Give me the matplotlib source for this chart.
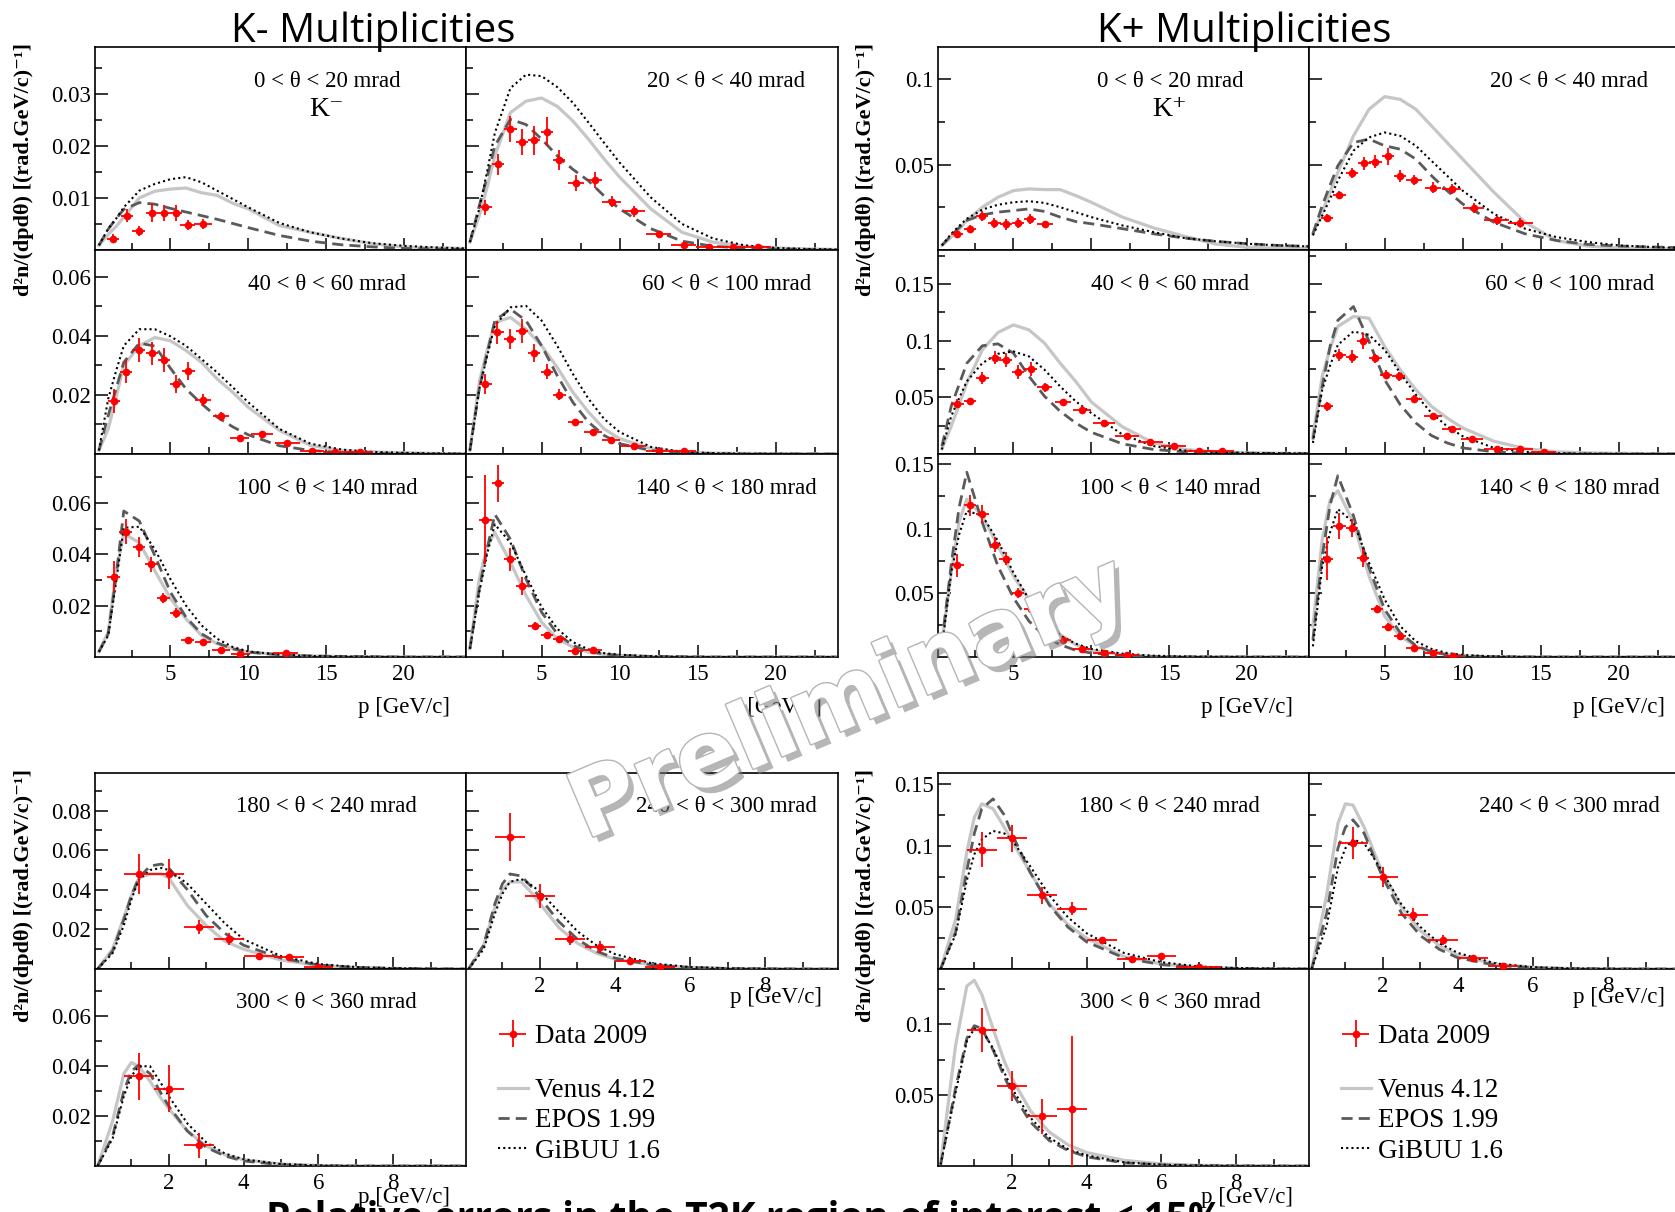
import matplotlib
matplotlib.use("Agg")
import matplotlib.pyplot as plt
from matplotlib import patheffects

W, H = 1675, 1212
SERIF = ["Liberation Serif", "DejaVu Serif"]
plt.rcParams["font.family"] = SERIF
plt.rcParams["axes.linewidth"] = 1.2

# momentum grids of the model curves
P_TOP = [0.4, 1, 1.5, 2, 3, 4, 5, 6, 7, 8, 9, 10, 12, 14, 16, 18, 20, 22, 24]
P_LOW = [0.1, 0.5, 0.8, 1.0, 1.2, 1.5, 1.8, 2.0, 2.5, 3.0, 3.5, 4.0, 5.0, 6.0, 7.0, 8.0, 9.0, 9.9]

THETA_TOP = ["0 < θ < 20 mrad", "20 < θ < 40 mrad", "40 < θ < 60 mrad",
             "60 < θ < 100 mrad", "100 < θ < 140 mrad", "140 < θ < 180 mrad"]
THETA_LOW = ["180 < θ < 240 mrad", "240 < θ < 300 mrad", "300 < θ < 360 mrad"]

# ---- K- : model predictions, forward angles ----
KM_VENUS_TOP = [
    [0.0009, 0.003, 0.0045, 0.0063, 0.010, 0.0113, 0.0117, 0.0119, 0.011, 0.0105, 0.009, 0.0079, 0.0047, 0.0034, 0.0022, 0.0012, 0.0006, 0.0004, 0.0003],
    [0.0015, 0.0066, 0.012, 0.0181, 0.0264, 0.0286, 0.0292, 0.0276, 0.0248, 0.0213, 0.0175, 0.014, 0.0079, 0.0034, 0.0015, 0.0007, 0.0004, 0.0002, 0.0001],
    [0.0012, 0.0085, 0.019, 0.030, 0.0366, 0.0394, 0.0383, 0.035, 0.031, 0.0254, 0.0209, 0.0158, 0.008, 0.0029, 0.0012, 0.0007, 0.0004, 0.0002, 0.0001],
    [0.0012, 0.0243, 0.035, 0.0445, 0.0462, 0.0422, 0.0366, 0.0293, 0.0209, 0.0142, 0.0085, 0.0052, 0.0018, 0.0007, 0.0003, 0.0002, 0.0001, 0.0001, 0.0],
    [0.002, 0.0097, 0.033, 0.048, 0.0445, 0.0335, 0.0228, 0.0148, 0.0084, 0.0052, 0.0032, 0.0019, 0.0009, 0.0004, 0.0002, 0.0001, 0.0, 0.0, 0.0],
    [0.0032, 0.0303, 0.043, 0.0484, 0.0368, 0.0239, 0.0135, 0.0071, 0.0039, 0.0019, 0.001, 0.0006, 0.0002, 0.0001, 0.0, 0.0, 0.0, 0.0, 0.0],
]
KM_EPOS_TOP = [
    [0.0009, 0.004, 0.006, 0.0078, 0.0091, 0.0088, 0.0080, 0.0073, 0.0066, 0.0059, 0.0051, 0.0043, 0.0028, 0.0017, 0.001, 0.0006, 0.0003, 0.0002, 0.0001],
    [0.0015, 0.0085, 0.014, 0.020, 0.0251, 0.0241, 0.0213, 0.0181, 0.0155, 0.0133, 0.0104, 0.0079, 0.0041, 0.0017, 0.0007, 0.0004, 0.0002, 0.0001, 0.0],
    [0.0012, 0.013, 0.022, 0.031, 0.0375, 0.0365, 0.029, 0.022, 0.017, 0.0125, 0.0092, 0.0065, 0.0028, 0.0012, 0.0005, 0.0002, 0.0001, 0.0, 0.0],
    [0.0012, 0.022, 0.034, 0.0451, 0.049, 0.0451, 0.0366, 0.0265, 0.0175, 0.0108, 0.0063, 0.0035, 0.0012, 0.0004, 0.0001, 0.0, 0.0, 0.0, 0.0],
    [0.002, 0.009, 0.031, 0.0568, 0.0529, 0.0394, 0.0252, 0.0155, 0.009, 0.0055, 0.0032, 0.0019, 0.0009, 0.0004, 0.0002, 0.0001, 0.0, 0.0, 0.0],
    [0.0032, 0.0265, 0.042, 0.0555, 0.0458, 0.0303, 0.0174, 0.009, 0.0045, 0.0022, 0.0012, 0.0006, 0.0002, 0.0001, 0.0, 0.0, 0.0, 0.0, 0.0],
]
KM_GIBUU_TOP = [
    [0.0009, 0.0041, 0.006, 0.0082, 0.0114, 0.0127, 0.0136, 0.014, 0.013, 0.0114, 0.0098, 0.0082, 0.0052, 0.0034, 0.0022, 0.0013, 0.0008, 0.0005, 0.0003],
    [0.0015, 0.0079, 0.015, 0.0225, 0.0311, 0.0337, 0.0334, 0.0313, 0.0283, 0.0245, 0.0206, 0.0168, 0.0101, 0.005, 0.0022, 0.0009, 0.0004, 0.0002, 0.0001],
    [0.0012, 0.0187, 0.028, 0.0366, 0.0422, 0.0422, 0.0398, 0.0366, 0.0321, 0.0276, 0.0226, 0.0175, 0.0085, 0.0035, 0.0015, 0.0007, 0.0004, 0.0002, 0.0001],
    [0.0012, 0.022, 0.033, 0.0434, 0.0496, 0.0501, 0.0451, 0.0366, 0.0271, 0.0187, 0.0119, 0.0074, 0.0024, 0.0007, 0.0003, 0.0001, 0.0001, 0.0, 0.0],
    [0.002, 0.0084, 0.029, 0.0503, 0.0507, 0.0419, 0.0303, 0.02, 0.0123, 0.0071, 0.0039, 0.0022, 0.0009, 0.0004, 0.0002, 0.0001, 0.0, 0.0, 0.0],
    [0.0032, 0.0252, 0.040, 0.0516, 0.0445, 0.0316, 0.0194, 0.011, 0.0058, 0.003, 0.0015, 0.0009, 0.0003, 0.0001, 0.0, 0.0, 0.0, 0.0, 0.0],
]
# measured points: (p, p half-width, value, error)
KM_DATA_TOP = [
    [(1.3, 0.4, 0.0022, 0.0008), (2.2, 0.4, 0.0066, 0.0012), (2.95, 0.4, 0.0036, 0.001), (3.8, 0.4, 0.0072, 0.0018),
     (4.6, 0.4, 0.0071, 0.0016), (5.35, 0.4, 0.0071, 0.0016), (6.1, 0.5, 0.0048, 0.001), (7.1, 0.6, 0.005, 0.001)],
    [(1.4, 0.4, 0.0082, 0.0015), (2.2, 0.4, 0.0165, 0.002), (3.0, 0.4, 0.0232, 0.0025), (3.75, 0.4, 0.0208, 0.0025),
     (4.5, 0.4, 0.0211, 0.0028), (5.35, 0.4, 0.0227, 0.0028), (6.1, 0.4, 0.0173, 0.002), (7.2, 0.5, 0.0129, 0.0015),
     (8.4, 0.5, 0.0135, 0.0015), (9.5, 0.6, 0.0093, 0.001), (10.9, 0.7, 0.0074, 0.001), (12.5, 0.8, 0.0031, 0.0005),
     (14.1, 0.8, 0.001, 0.0003), (15.7, 0.8, 0.0006, 0.0002), (17.3, 0.8, 0.0006, 0.0002), (18.9, 0.8, 0.0005, 0.0002)],
    [(1.37, 0.4, 0.0179, 0.004), (2.16, 0.4, 0.0279, 0.004), (2.95, 0.4, 0.0352, 0.004), (3.8, 0.4, 0.034, 0.004),
     (4.6, 0.4, 0.0318, 0.004), (5.34, 0.4, 0.0237, 0.003), (6.16, 0.4, 0.028, 0.003), (7.1, 0.5, 0.0184, 0.002),
     (8.25, 0.5, 0.0128, 0.0015), (9.45, 0.6, 0.0054, 0.0007), (10.9, 0.7, 0.0066, 0.0007), (12.5, 0.8, 0.0038, 0.0005),
     (14.1, 0.8, 0.001, 0.0003), (15.6, 0.8, 0.0008, 0.0002), (17.2, 0.8, 0.0008, 0.0002)],
    [(1.4, 0.4, 0.0237, 0.0035), (2.16, 0.4, 0.0411, 0.004), (2.98, 0.4, 0.0389, 0.0035), (3.73, 0.4, 0.0417, 0.004),
     (4.52, 0.4, 0.0342, 0.003), (5.34, 0.4, 0.0279, 0.0025), (6.13, 0.4, 0.0201, 0.002), (7.16, 0.5, 0.0108, 0.001),
     (8.3, 0.6, 0.0076, 0.0008), (9.45, 0.6, 0.0047, 0.0006), (10.9, 0.8, 0.0026, 0.0004), (12.5, 0.8, 0.0011, 0.0003),
     (14.1, 0.8, 0.001, 0.0003)],
    [(1.34, 0.4, 0.0312, 0.006), (2.12, 0.4, 0.0488, 0.005), (2.98, 0.4, 0.0428, 0.004), (3.77, 0.4, 0.0361, 0.003),
     (4.55, 0.4, 0.023, 0.002), (5.34, 0.4, 0.017, 0.002), (6.1, 0.4, 0.0067, 0.0008), (7.1, 0.5, 0.006, 0.0008),
     (8.25, 0.6, 0.0027, 0.0005), (9.5, 0.6, 0.0013, 0.0003), (12.4, 0.8, 0.0014, 0.0003)],
    [(1.4, 0.4, 0.0535, 0.0175), (2.19, 0.4, 0.0677, 0.0072), (2.98, 0.4, 0.0381, 0.0045), (3.77, 0.4, 0.0277, 0.0035),
     (4.55, 0.4, 0.012, 0.0015), (5.34, 0.4, 0.0086, 0.0012), (6.13, 0.4, 0.0071, 0.0012), (7.16, 0.5, 0.0025, 0.0005),
     (8.3, 0.6, 0.0028, 0.0006)],
]

# ---- K+ : model predictions, forward angles ----
KP_VENUS_TOP = [
    [0.0027, 0.0076, 0.012, 0.0173, 0.0251, 0.0309, 0.0348, 0.0358, 0.0354, 0.0354, 0.0319, 0.028, 0.0193, 0.013, 0.008, 0.0035, 0.0016, 0.0012, 0.001],
    [0.0095, 0.0222, 0.034, 0.0455, 0.0669, 0.0825, 0.0899, 0.0883, 0.0825, 0.0728, 0.063, 0.0533, 0.0339, 0.0163, 0.0056, 0.0023, 0.0012, 0.0008, 0.0006],
    [0.0046, 0.0245, 0.043, 0.0626, 0.0919, 0.1072, 0.1139, 0.1095, 0.0978, 0.0802, 0.0641, 0.046, 0.024, 0.0098, 0.004, 0.0019, 0.001, 0.0007, 0.0005],
    [0.0157, 0.0685, 0.093, 0.1125, 0.1213, 0.1198, 0.0949, 0.0743, 0.0567, 0.0421, 0.0318, 0.023, 0.0113, 0.0048, 0.0019, 0.001, 0.0006, 0.0004, 0.0003],
    [0.011, 0.0656, 0.105, 0.1229, 0.1099, 0.0865, 0.063, 0.0448, 0.0292, 0.0174, 0.0096, 0.0052, 0.0018, 0.0005, 0.0002, 0.0001, 0.0, 0.0, 0.0],
    [0.024, 0.0917, 0.122, 0.1294, 0.1047, 0.063, 0.0318, 0.0161, 0.0083, 0.0039, 0.0018, 0.0008, 0.0002, 0.0001, 0.0, 0.0, 0.0, 0.0, 0.0],
]
KP_EPOS_TOP = [
    [0.0027, 0.0086, 0.013, 0.0173, 0.0206, 0.0222, 0.0231, 0.0241, 0.0226, 0.0193, 0.0167, 0.0154, 0.0125, 0.0095, 0.007, 0.0051, 0.0037, 0.0027, 0.0021],
    [0.0095, 0.0261, 0.038, 0.0494, 0.063, 0.065, 0.0611, 0.0591, 0.0533, 0.0436, 0.0348, 0.027, 0.0163, 0.0095, 0.0056, 0.0033, 0.0023, 0.0018, 0.0014],
    [0.0069, 0.0421, 0.061, 0.0800, 0.0955, 0.0972, 0.089, 0.0685, 0.0509, 0.0377, 0.0274, 0.0192, 0.009, 0.004, 0.0019, 0.001, 0.0007, 0.0005, 0.0003],
    [0.0128, 0.060, 0.095, 0.118, 0.1301, 0.0993, 0.0655, 0.0435, 0.0274, 0.0163, 0.0098, 0.0054, 0.0019, 0.0007, 0.0003, 0.0001, 0.0, 0.0, 0.0],
    [0.011, 0.072, 0.116, 0.1438, 0.1047, 0.0708, 0.0461, 0.0279, 0.0161, 0.0096, 0.0052, 0.0031, 0.001, 0.0003, 0.0001, 0.0, 0.0, 0.0, 0.0],
    [0.0135, 0.0786, 0.118, 0.1411, 0.1099, 0.0695, 0.037, 0.0188, 0.0089, 0.0042, 0.0018, 0.0008, 0.0002, 0.0001, 0.0, 0.0, 0.0, 0.0, 0.0],
]
KP_GIBUU_TOP = [
    [0.0027, 0.0095, 0.014, 0.0183, 0.0237, 0.0265, 0.028, 0.0286, 0.0276, 0.0251, 0.0222, 0.0193, 0.0144, 0.0105, 0.007, 0.0051, 0.0037, 0.0027, 0.0021],
    [0.0086, 0.0202, 0.030, 0.0407, 0.0582, 0.066, 0.0689, 0.0669, 0.0611, 0.0523, 0.0436, 0.0348, 0.0212, 0.0125, 0.0076, 0.0047, 0.0027, 0.0018, 0.0012],
    [0.004, 0.0333, 0.049, 0.0641, 0.0802, 0.0884, 0.0905, 0.0861, 0.0743, 0.0597, 0.0465, 0.0362, 0.0172, 0.007, 0.0031, 0.0016, 0.001, 0.0007, 0.0005],
    [0.0098, 0.0567, 0.078, 0.0963, 0.1081, 0.1051, 0.0919, 0.0714, 0.0523, 0.0362, 0.0245, 0.0157, 0.0054, 0.0019, 0.0007, 0.0003, 0.0002, 0.0001, 0.0],
    [0.007, 0.0656, 0.095, 0.1138, 0.1099, 0.0904, 0.0656, 0.0448, 0.0279, 0.0167, 0.0104, 0.0063, 0.0026, 0.001, 0.0004, 0.0002, 0.0001, 0.0, 0.0],
    [0.0083, 0.0708, 0.097, 0.1151, 0.1047, 0.0734, 0.0448, 0.024, 0.0122, 0.0063, 0.0031, 0.0016, 0.0005, 0.0001, 0.0, 0.0, 0.0, 0.0, 0.0],
]
KP_DATA_TOP = [
    [(1.37, 0.4, 0.0091, 0.002), (2.2, 0.4, 0.0124, 0.002), (2.97, 0.4, 0.0198, 0.003), (3.77, 0.4, 0.0158, 0.003),
     (4.53, 0.4, 0.015, 0.003), (5.3, 0.4, 0.016, 0.003), (6.07, 0.4, 0.018, 0.003), (7.03, 0.5, 0.015, 0.002)],
    [(1.3, 0.4, 0.0189, 0.002), (2.1, 0.4, 0.0325, 0.002), (2.9, 0.4, 0.0451, 0.003), (3.7, 0.4, 0.0508, 0.004),
     (4.4, 0.4, 0.0518, 0.004), (5.2, 0.4, 0.0549, 0.005), (6.0, 0.4, 0.0436, 0.0035), (6.9, 0.5, 0.041, 0.003),
     (8.1, 0.5, 0.0366, 0.003), (9.3, 0.6, 0.0358, 0.003), (10.7, 0.7, 0.0245, 0.003), (12.2, 0.8, 0.0173, 0.0025),
     (13.7, 0.8, 0.016, 0.0025)],
    [(1.4, 0.4, 0.0444, 0.004), (2.2, 0.4, 0.0465, 0.003), (3.0, 0.4, 0.067, 0.005), (3.8, 0.4, 0.085, 0.006),
     (4.5, 0.4, 0.083, 0.006), (5.3, 0.4, 0.0723, 0.006), (6.1, 0.4, 0.075, 0.006), (7.0, 0.5, 0.0588, 0.004),
     (8.2, 0.5, 0.0456, 0.003), (9.4, 0.6, 0.0392, 0.003), (10.8, 0.7, 0.0274, 0.002), (12.3, 0.8, 0.0157, 0.0015),
     (13.8, 0.8, 0.0107, 0.0012), (15.3, 0.8, 0.0069, 0.001), (16.9, 0.8, 0.0025, 0.0005), (18.4, 0.8, 0.0025, 0.0005)],
    [(1.3, 0.4, 0.0421, 0.004), (2.1, 0.4, 0.0875, 0.005), (2.9, 0.4, 0.086, 0.006), (3.6, 0.4, 0.100, 0.007),
     (4.4, 0.4, 0.0846, 0.004), (5.1, 0.4, 0.070, 0.004), (5.9, 0.4, 0.0685, 0.004), (6.9, 0.5, 0.0488, 0.003),
     (8.1, 0.6, 0.0333, 0.003), (9.3, 0.6, 0.0224, 0.002), (10.6, 0.7, 0.0136, 0.0015), (12.2, 0.8, 0.0048, 0.001),
     (13.7, 0.8, 0.004, 0.001), (15.2, 0.8, 0.0015, 0.0005)],
    [(1.4, 0.4, 0.0714, 0.009), (2.2, 0.4, 0.118, 0.008), (3.0, 0.4, 0.111, 0.007), (3.8, 0.4, 0.0875, 0.006),
     (4.5, 0.4, 0.0766, 0.005), (5.3, 0.4, 0.050, 0.004), (6.1, 0.4, 0.037, 0.003), (7.0, 0.5, 0.0219, 0.002),
     (8.2, 0.5, 0.013, 0.0015), (9.4, 0.6, 0.0063, 0.001), (10.8, 0.7, 0.0031, 0.0006), (12.3, 0.8, 0.0013, 0.0004)],
    [(1.3, 0.4, 0.0766, 0.017), (2.1, 0.4, 0.102, 0.01), (2.9, 0.4, 0.1005, 0.007), (3.6, 0.4, 0.0773, 0.007),
     (4.5, 0.4, 0.0375, 0.003), (5.2, 0.4, 0.0234, 0.003), (6.0, 0.4, 0.0167, 0.002), (6.9, 0.5, 0.007, 0.001),
     (8.1, 0.6, 0.0031, 0.0006), (9.4, 0.6, 0.001, 0.0003)],
]

# ---- large angles (p up to 10 GeV/c) ----
KM_VENUS_LOW = [
    [0.0, 0.010, 0.026, 0.037, 0.046, 0.048, 0.048, 0.046, 0.032, 0.022, 0.014, 0.010, 0.0045, 0.0018, 0.0007, 0.0003, 0.0001, 0.0],
    [0.0, 0.012, 0.031, 0.040, 0.044, 0.044, 0.038, 0.033, 0.021, 0.013, 0.008, 0.005, 0.002, 0.0008, 0.0003, 0.0001, 0.0, 0.0],
    [0.0, 0.018, 0.037, 0.0415, 0.040, 0.034, 0.027, 0.023, 0.014, 0.008, 0.0045, 0.0025, 0.0008, 0.0002, 0.0, 0.0, 0.0, 0.0],
]
KM_EPOS_LOW = [
    [0.0, 0.009, 0.025, 0.037, 0.046, 0.052, 0.053, 0.051, 0.040, 0.027, 0.018, 0.012, 0.0055, 0.002, 0.0008, 0.0003, 0.0001, 0.0],
    [0.0, 0.012, 0.033, 0.043, 0.048, 0.047, 0.041, 0.036, 0.024, 0.015, 0.009, 0.0055, 0.002, 0.0007, 0.0002, 0.0001, 0.0, 0.0],
    [0.0, 0.012, 0.030, 0.038, 0.0405, 0.037, 0.029, 0.024, 0.014, 0.0075, 0.004, 0.002, 0.0005, 0.0001, 0.0, 0.0, 0.0, 0.0],
]
KM_GIBUU_LOW = [
    [0.0, 0.008, 0.022, 0.035, 0.045, 0.050, 0.051, 0.050, 0.043, 0.033, 0.023, 0.015, 0.0065, 0.0025, 0.001, 0.0004, 0.0001, 0.0],
    [0.0, 0.010, 0.028, 0.038, 0.044, 0.0455, 0.042, 0.039, 0.029, 0.019, 0.012, 0.0075, 0.0028, 0.001, 0.0004, 0.0001, 0.0, 0.0],
    [0.0, 0.011, 0.028, 0.036, 0.040, 0.040, 0.033, 0.028, 0.017, 0.0095, 0.005, 0.0027, 0.0008, 0.0002, 0.0, 0.0, 0.0, 0.0],
]
KM_DATA_LOW = [
    [(1.2, 0.4, 0.048, 0.010), (2.0, 0.4, 0.048, 0.0075), (2.8, 0.4, 0.0213, 0.0035), (3.6, 0.4, 0.0153, 0.003),
     (4.4, 0.4, 0.0066, 0.0015), (5.2, 0.4, 0.0063, 0.0015), (6.0, 0.4, 0.0008, 0.0004)],
    [(1.2, 0.4, 0.0666, 0.0123), (2.0, 0.4, 0.0368, 0.006), (2.8, 0.4, 0.015, 0.003), (3.6, 0.4, 0.011, 0.003),
     (4.4, 0.4, 0.0038, 0.001), (5.2, 0.4, 0.0008, 0.0004)],
    [(1.2, 0.4, 0.036, 0.0095), (2.0, 0.4, 0.031, 0.0095), (2.8, 0.4, 0.0083, 0.005)],
]
KP_VENUS_LOW = [
    [0.0, 0.040, 0.095, 0.123, 0.134, 0.130, 0.115, 0.104, 0.078, 0.053, 0.036, 0.025, 0.010, 0.004, 0.0015, 0.0005, 0.0001, 0.0],
    [0.0, 0.060, 0.118, 0.134, 0.133, 0.115, 0.092, 0.078, 0.050, 0.031, 0.019, 0.011, 0.004, 0.0013, 0.0004, 0.0001, 0.0, 0.0],
    [0.002, 0.085, 0.127, 0.131, 0.121, 0.097, 0.074, 0.062, 0.039, 0.024, 0.015, 0.0095, 0.004, 0.0015, 0.0005, 0.0002, 0.0, 0.0],
]
KP_EPOS_LOW = [
    [0.0, 0.030, 0.080, 0.110, 0.130, 0.138, 0.125, 0.110, 0.078, 0.052, 0.034, 0.022, 0.009, 0.0035, 0.0012, 0.0004, 0.0001, 0.0],
    [0.0, 0.045, 0.098, 0.115, 0.121, 0.110, 0.088, 0.074, 0.045, 0.027, 0.016, 0.009, 0.003, 0.001, 0.0003, 0.0001, 0.0, 0.0],
    [0.001, 0.055, 0.090, 0.099, 0.097, 0.082, 0.063, 0.052, 0.031, 0.018, 0.011, 0.0065, 0.0022, 0.0008, 0.0003, 0.0001, 0.0, 0.0],
]
KP_GIBUU_LOW = [
    [0.0, 0.028, 0.072, 0.093, 0.105, 0.112, 0.110, 0.105, 0.083, 0.060, 0.042, 0.029, 0.013, 0.0055, 0.002, 0.0008, 0.0003, 0.0001],
    [0.0, 0.035, 0.082, 0.098, 0.105, 0.102, 0.088, 0.078, 0.052, 0.034, 0.021, 0.013, 0.0045, 0.0015, 0.0005, 0.0002, 0.0, 0.0],
    [0.001, 0.052, 0.088, 0.097, 0.096, 0.083, 0.066, 0.055, 0.034, 0.020, 0.012, 0.0075, 0.0026, 0.0009, 0.0003, 0.0001, 0.0, 0.0],
]
KP_DATA_LOW = [
    [(1.2, 0.4, 0.0968, 0.014), (2.0, 0.4, 0.106, 0.011), (2.8, 0.4, 0.0597, 0.007), (3.6, 0.4, 0.049, 0.005),
     (4.4, 0.4, 0.0232, 0.003), (5.2, 0.4, 0.0084, 0.002), (6.0, 0.4, 0.0103, 0.002), (7.0, 0.6, 0.0014, 0.0006)],
    [(1.2, 0.4, 0.102, 0.013), (2.0, 0.4, 0.0746, 0.008), (2.8, 0.4, 0.0441, 0.005), (3.6, 0.4, 0.0238, 0.004),
     (4.4, 0.4, 0.0089, 0.002), (5.2, 0.4, 0.0022, 0.001)],
    [(1.2, 0.4, 0.0958, 0.0155), (2.0, 0.4, 0.0566, 0.0105), (2.8, 0.4, 0.035, 0.0125), (3.6, 0.4, 0.040, 0.052)],
]

# y-axis ranges and tick steps per row
KM_YMAX_TOP, KM_YSTEP_TOP = [0.039, 0.069, 0.079], [0.01, 0.02, 0.02]
KM_YMAX_LOW, KM_YSTEP_LOW = [0.099, 0.079], [0.02, 0.02]
KP_YMAX_TOP, KP_YSTEP_TOP = [0.119, 0.18, 0.158], [0.05, 0.05, 0.05]
KP_YMAX_LOW, KP_YSTEP_LOW = [0.159, 0.139], [0.05, 0.05]

# panel frames in pixels
TOP_ROWS = [(47, 250), (250, 454), (454, 657)]
LOW_ROWS = [(773, 969), (969, 1166)]
KM_COLS = [(95, 466), (466, 838)]
KP_COLS = [(938, 1309), (1309, 1681)]

YLABEL = "d²n/(dpdθ) [(rad.GeV/c)⁻¹]"


def add_panel(fig, col, row):
    (x0, x1), (y0, y1) = col, row
    return fig.add_axes([x0 / W, 1 - y1 / H, (x1 - x0) / W, (y1 - y0) / H])


def draw_panel(ax, p, venus, epos, gibuu, data):
    v, = ax.plot(p, venus, color="#c6c6c6", lw=2.3, zorder=2)
    e, = ax.plot(p, epos, color="#5a5a5a", lw=2.0, ls=(0, (4, 2.2)), zorder=3)
    g, = ax.plot(p, gibuu, color="black", lw=1.5, ls=(0, (1, 1.5)), zorder=4)
    pc, dp, y, dy = (list(c) for c in zip(*data))
    d = ax.errorbar(pc, y, xerr=dp, yerr=dy, fmt="o", ms=4.5, color="red",
                    elinewidth=1.3, capsize=0, zorder=5)
    return d, v, e, g


def style_panel(ax, xlim, xmajor, xminor, ymax, ystep, show_x, show_y):
    ax.set_xlim(*xlim)
    ax.set_ylim(0, ymax)
    ax.set_xticks(xmajor)
    ax.set_xticks(xminor, minor=True)
    yt = [round(k * ystep, 4) for k in range(1, 10) if k * ystep < ymax - 1e-9]
    ym = [round((k + 0.5) * ystep, 4) for k in range(0, 10) if (k + 0.5) * ystep < ymax - 1e-9]
    ax.set_yticks(yt)
    ax.set_yticks(ym, minor=True)
    ax.set_xticklabels([f"{t:g}" for t in xmajor])
    ax.set_yticklabels([f"{t:g}" for t in yt])
    ax.tick_params(which="both", direction="in", top=False, right=False, labelsize=16.5, width=1.1)
    ax.tick_params(which="major", length=9)
    ax.tick_params(which="minor", length=5)
    ax.tick_params(axis="x", pad=5, labelbottom=show_x)
    ax.tick_params(axis="y", pad=3, labelleft=show_y)


def draw_species(fig, cols, top, low, leg_x):
    venus_t, epos_t, gibuu_t, data_t, ymax_t, ystep_t = top
    venus_l, epos_l, gibuu_l, data_l, ymax_l, ystep_l = low

    for i in range(6):
        row, col = divmod(i, 2)
        ax = add_panel(fig, cols[col], TOP_ROWS[row])
        draw_panel(ax, P_TOP, venus_t[i], epos_t[i], gibuu_t[i], data_t[i])
        style_panel(ax, (0.15, 24), [5, 10, 15, 20], [2.5, 7.5, 12.5, 17.5, 22.5],
                    ymax_t[row], ystep_t[row], row == 2, col == 0)
        ax.text(0.625 if col == 0 else 0.70, 0.83, THETA_TOP[i], transform=ax.transAxes,
                ha="center", va="center", fontsize=16.5)

    handles = None
    for i in range(3):
        row, col = divmod(i, 2)
        ax = add_panel(fig, cols[col], LOW_ROWS[row])
        handles = draw_panel(ax, P_LOW, venus_l[i], epos_l[i], gibuu_l[i], data_l[i])
        style_panel(ax, (0.03, 9.94), [2, 4, 6, 8], [1, 3, 5, 7, 9],
                    ymax_l[row], ystep_l[row], i > 0, col == 0)
        ax.text(0.625 if col == 0 else 0.70, 0.83, THETA_LOW[i], transform=ax.transAxes,
                ha="center", va="center", fontsize=16.5)

    # momentum axis titles
    for (x0, x1), y in [(cols[0], 707), (cols[1], 707), (cols[1], 998), (cols[0], 1198)]:
        right = min(x1, W + 6) - 16
        fig.text(right / W, 1 - y / H, "p [GeV/c]", ha="right", va="center", fontsize=16.5)

    d, v, e, g = handles
    fig.legend([d], ["Data 2009"], loc="upper left", bbox_to_anchor=(leg_x / W, 1 - 1024 / H),
               frameon=False, fontsize=19.5, handlelength=1.1, handletextpad=0.25,
               borderpad=0, borderaxespad=0)
    fig.legend([v, e, g], ["Venus 4.12", "EPOS 1.99", "GiBUU 1.6"], loc="upper left",
               bbox_to_anchor=(leg_x / W, 1 - 1078 / H), frameon=False, fontsize=19.5,
               handlelength=1.1, handletextpad=0.25, labelspacing=0.2,
               borderpad=0, borderaxespad=0)


fig = plt.figure(figsize=(W / 100, H / 100), dpi=100)

draw_species(fig, KM_COLS,
             (KM_VENUS_TOP, KM_EPOS_TOP, KM_GIBUU_TOP, KM_DATA_TOP, KM_YMAX_TOP, KM_YSTEP_TOP),
             (KM_VENUS_LOW, KM_EPOS_LOW, KM_GIBUU_LOW, KM_DATA_LOW, KM_YMAX_LOW, KM_YSTEP_LOW),
             498)
draw_species(fig, KP_COLS,
             (KP_VENUS_TOP, KP_EPOS_TOP, KP_GIBUU_TOP, KP_DATA_TOP, KP_YMAX_TOP, KP_YSTEP_TOP),
             (KP_VENUS_LOW, KP_EPOS_LOW, KP_GIBUU_LOW, KP_DATA_LOW, KP_YMAX_LOW, KP_YSTEP_LOW),
             1341)

# particle tags in the first panel of each side
fig.text(327 / W, 1 - 110 / H, "K⁻", ha="center", va="center", fontsize=20)
fig.text(1170 / W, 1 - 110 / H, "K⁺", ha="center", va="center", fontsize=20)

# y titles
for x in (24, 866):
    for y_top in (43, 769):
        fig.text(x / W, 1 - y_top / H, YLABEL, rotation=90, ha="center", va="top",
                 fontsize=16, fontweight="bold")

# headings
fig.text(373 / W, 1 - 42 / H, "K- Multiplicities", ha="center", va="baseline",
         fontsize=29, family="Open Sans")
fig.text(1244 / W, 1 - 42 / H, "K+ Multiplicities", ha="center", va="baseline",
         fontsize=29, family="Open Sans")

fig.text(745 / W, 1 - 1200 / H, "Relative errors in the T2K region of interest < 15%",
         ha="center", va="top", fontsize=28, family="Open Sans", fontweight="bold")

fig.text(850 / W, 1 - 700 / H, "Preliminary", rotation=23, ha="center", va="center",
         fontsize=66, family="DejaVu Sans", fontweight="bold", color="white", zorder=20,
         path_effects=[patheffects.SimplePatchShadow(offset=(4, -4), shadow_rgbFace="#7a7a7a", alpha=0.55),
                       patheffects.Stroke(linewidth=2.0, foreground="#b5b5b5"),
                       patheffects.Normal()])

fig.savefig("out.png", dpi=100)
